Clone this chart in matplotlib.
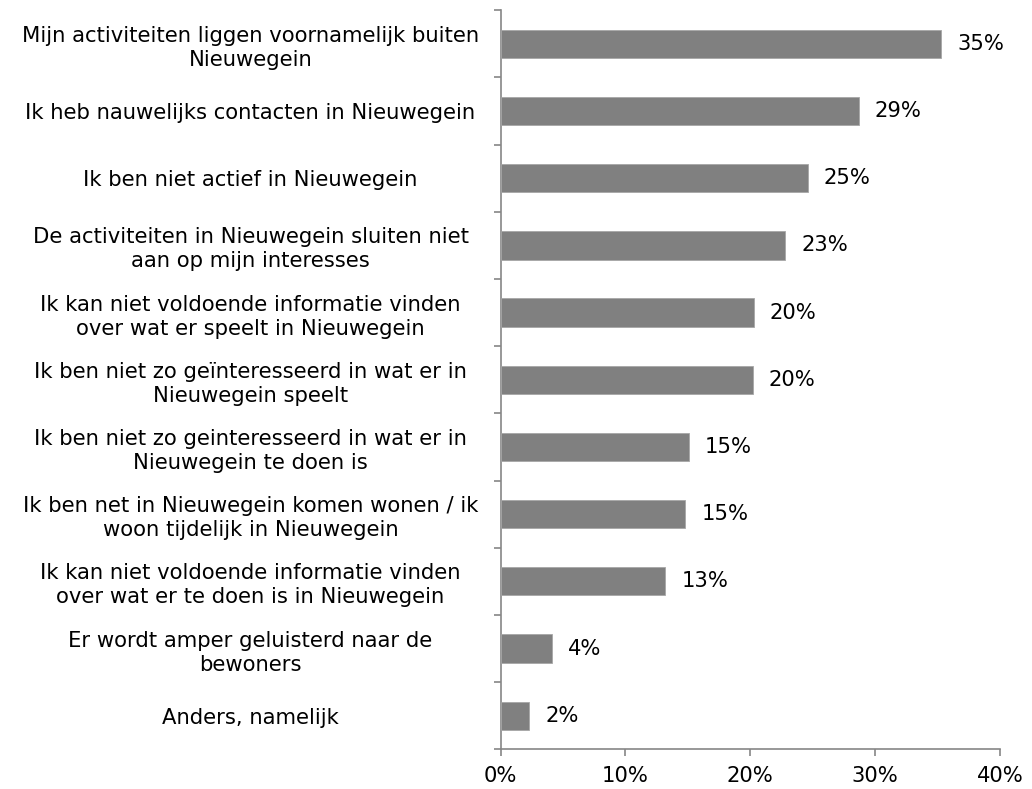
import matplotlib
matplotlib.use("Agg")
import matplotlib.pyplot as plt
import numpy as np

categories = [
    "Mijn activiteiten liggen voornamelijk buiten\nNieuwegein",
    "Ik heb nauwelijks contacten in Nieuwegein",
    "Ik ben niet actief in Nieuwegein",
    "De activiteiten in Nieuwegein sluiten niet\naan op mijn interesses",
    "Ik kan niet voldoende informatie vinden\nover wat er speelt in Nieuwegein",
    "Ik ben niet zo geïnteresseerd in wat er in\nNieuwegein speelt",
    "Ik ben niet zo geinteresseerd in wat er in\nNieuwegein te doen is",
    "Ik ben net in Nieuwegein komen wonen / ik\nwoon tijdelijk in Nieuwegein",
    "Ik kan niet voldoende informatie vinden\nover wat er te doen is in Nieuwegein",
    "Er wordt amper geluisterd naar de\nbewoners",
    "Anders, namelijk",
]
values = [35.3, 28.7, 24.6, 22.8, 20.3, 20.2, 15.1, 14.8, 13.2, 4.1, 2.3]
value_labels = ["35%", "29%", "25%", "23%", "20%", "20%", "15%", "15%", "13%", "4%", "2%"]
xticks = [0, 10, 20, 30, 40]
xtick_labels = ["0%", "10%", "20%", "30%", "40%"]

FS = 15.2
plt.rcParams['font.family'] = ['DejaVu Sans']
fig = plt.figure(figsize=(10.32, 7.89), dpi=100)
ax = fig.add_axes([0.485, 0.0503, 0.484, 0.9367])

n = len(categories)
y = np.arange(n)
ax.barh(y, values, height=0.42, color="#808080", edgecolor="#a6a6a6", linewidth=0.6, zorder=3)
for yi, v, lab in zip(y, values, value_labels):
    ax.annotate(lab, (v, yi), xytext=(11.5, 0), textcoords="offset points",
                va="center", ha="left", fontsize=FS, color="black")

ax.set_ylim(n - 0.5, -0.5)
ax.set_xlim(0, 40)
ax.set_xticks(xticks)
ax.set_xticklabels(xtick_labels, fontsize=FS)
ax.set_yticks(y)
ax.set_yticklabels(categories, fontsize=FS, ha="center", linespacing=1.25)
ax.set_yticks(np.arange(-0.5, n, 1.0), minor=True)
ax.tick_params(axis="y", which="major", length=0, pad=180)
ax.tick_params(axis="y", which="minor", length=5, width=1.2, color="#868686", direction="out")
ax.tick_params(axis="x", which="major", length=5, width=1.2, color="#868686", direction="out", pad=7)

for s in ["top", "right"]:
    ax.spines[s].set_visible(False)
for s in ["left", "bottom"]:
    ax.spines[s].set_color("#868686")
    ax.spines[s].set_linewidth(1.2)

fig.savefig("out.png", dpi=100)
